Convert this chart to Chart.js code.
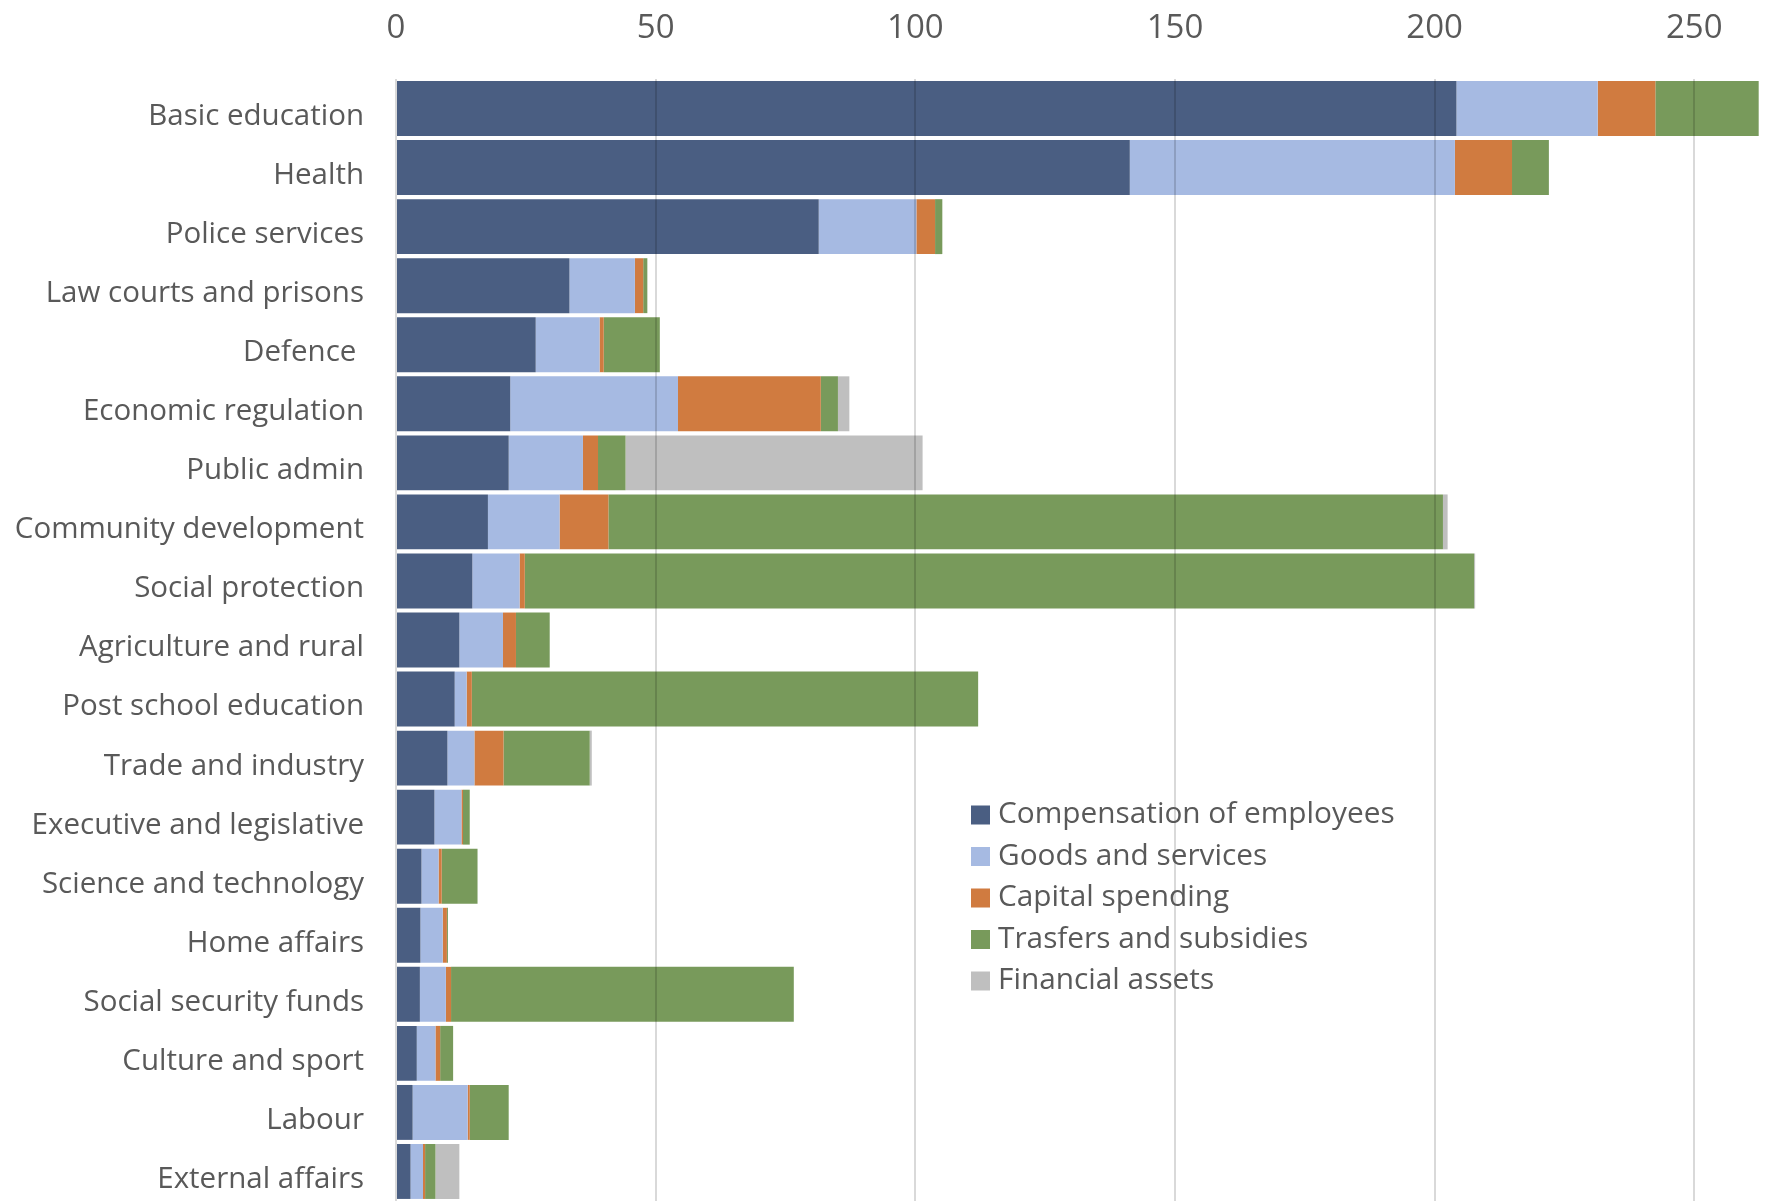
<!DOCTYPE html>
<html>
<head>
<meta charset="utf-8">
<script src="https://cdn.jsdelivr.net/npm/chart.js@4.4.1/dist/chart.umd.min.js"></script>
<style>
  body { margin: 0; background: #fff; }
  #wrap { width: 1767px; height: 1201px; }
</style>
</head>
<body>
<div id="wrap"><canvas id="budgetChart" width="1767" height="1201"></canvas></div>
<script>
// categories (top to bottom)
const categories = [
  "Basic education", "Health", "Police services", "Law courts and prisons",
  "Defence ", "Economic regulation", "Public admin", "Community development",
  "Social protection", "Agriculture and rural", "Post school education",
  "Trade and industry", "Executive and legislative", "Science and technology",
  "Home affairs", "Social security funds", "Culture and sport", "Labour",
  "External affairs"
];

// series values
const compensation = [204.2, 141.3, 81.4, 33.4, 26.9, 22.0, 21.7, 17.7, 14.7, 12.2, 11.3, 9.9, 7.4, 4.9, 4.7, 4.6, 4.0, 3.2, 2.8];
const goodsServices = [27.2, 62.6, 18.8, 12.6, 12.3, 32.3, 14.3, 13.8, 9.1, 8.4, 2.3, 5.2, 5.2, 3.3, 4.3, 5.0, 3.6, 10.6, 2.4];
const capitalSpending = [11.1, 11.0, 3.6, 1.6, 0.8, 27.5, 2.9, 9.4, 1.0, 2.5, 1.0, 5.6, 0.3, 0.6, 0.8, 1.0, 0.9, 0.4, 0.4];
const transfers = [19.9, 7.1, 1.4, 0.8, 10.8, 3.3, 5.3, 160.7, 182.8, 6.5, 97.5, 16.6, 1.3, 6.9, 0.2, 66.0, 2.5, 7.5, 2.0];
const financialAssets = [0, 0, 0, 0, 0, 2.2, 57.2, 0.9, 0.2, 0, 0, 0.4, 0, 0, 0, 0, 0, 0, 4.6];

const seriesNames = [
  "Compensation of employees",
  "Goods and services",
  "Capital spending",
  "Trasfers and subsidies",
  "Financial assets"
];
const seriesColors = ["#4a5e82", "#a6bae2", "#d07b40", "#789a5b", "#bfbfbf"];

// x axis tick labels
const xTicks = [0, 50, 100, 150, 200, 250];

const textColor = "#595959";
const fontFamily = "'Open Sans', 'Noto Sans', sans-serif";

const seriesData = [compensation, goodsServices, capitalSpending, transfers, financialAssets];

// legend drawn inside the plot, like the original
const innerLegend = {
  id: "innerLegend",
  afterDraw(chart) {
    const ctx = chart.ctx;
    ctx.save();
    ctx.font = "29.8px " + fontFamily;
    ctx.textBaseline = "middle";
    ctx.textAlign = "left";
    chart.data.datasets.forEach((ds, i) => {
      const y = 815 + i * 41.5;
      ctx.fillStyle = ds.backgroundColor;
      ctx.fillRect(971, y - 9.5, 19, 19);
      ctx.fillStyle = textColor;
      ctx.fillText(ds.label, 998, y);
    });
    ctx.restore();
  }
};

new Chart(document.getElementById("budgetChart"), {
  type: "bar",
  data: {
    labels: categories,
    datasets: seriesData.map((vals, i) => ({
      label: seriesNames[i],
      data: vals,
      backgroundColor: seriesColors[i],
      borderWidth: 0,
      barPercentage: 0.93,
      categoryPercentage: 1
    }))
  },
  options: {
    indexAxis: "y",
    responsive: false,
    animation: false,
    devicePixelRatio: 1,
    layout: { padding: 0 },
    plugins: {
      legend: { display: false },
      tooltip: { enabled: false }
    },
    scales: {
      x: {
        position: "top",
        stacked: true,
        min: 0,
        max: 264,
        afterFit(scale) {
          scale.height = 79;
          scale.paddingLeft = 0;
          scale.paddingRight = 0;
        },
        afterBuildTicks(scale) {
          scale.ticks = xTicks.map(v => ({ value: v }));
        },
        ticks: {
          color: textColor,
          font: { family: fontFamily, size: 33 },
          padding: 31,
          maxRotation: 0
        },
        grid: {
          color: "rgba(0,0,0,0.15)",
          lineWidth: 2,
          drawTicks: false,
          z: 1
        },
        border: { display: false }
      },
      y: {
        stacked: true,
        afterFit(scale) {
          scale.width = 396;
          scale.paddingTop = 0;
          scale.paddingBottom = 0;
        },
        ticks: {
          color: textColor,
          font: { family: fontFamily, size: 29.5 },
          padding: 32,
          labelOffset: 8,
          autoSkip: false
        },
        grid: { display: false, drawTicks: false },
        border: { display: false }
      }
    }
  },
  plugins: [innerLegend]
});
</script>
</body>
</html>
